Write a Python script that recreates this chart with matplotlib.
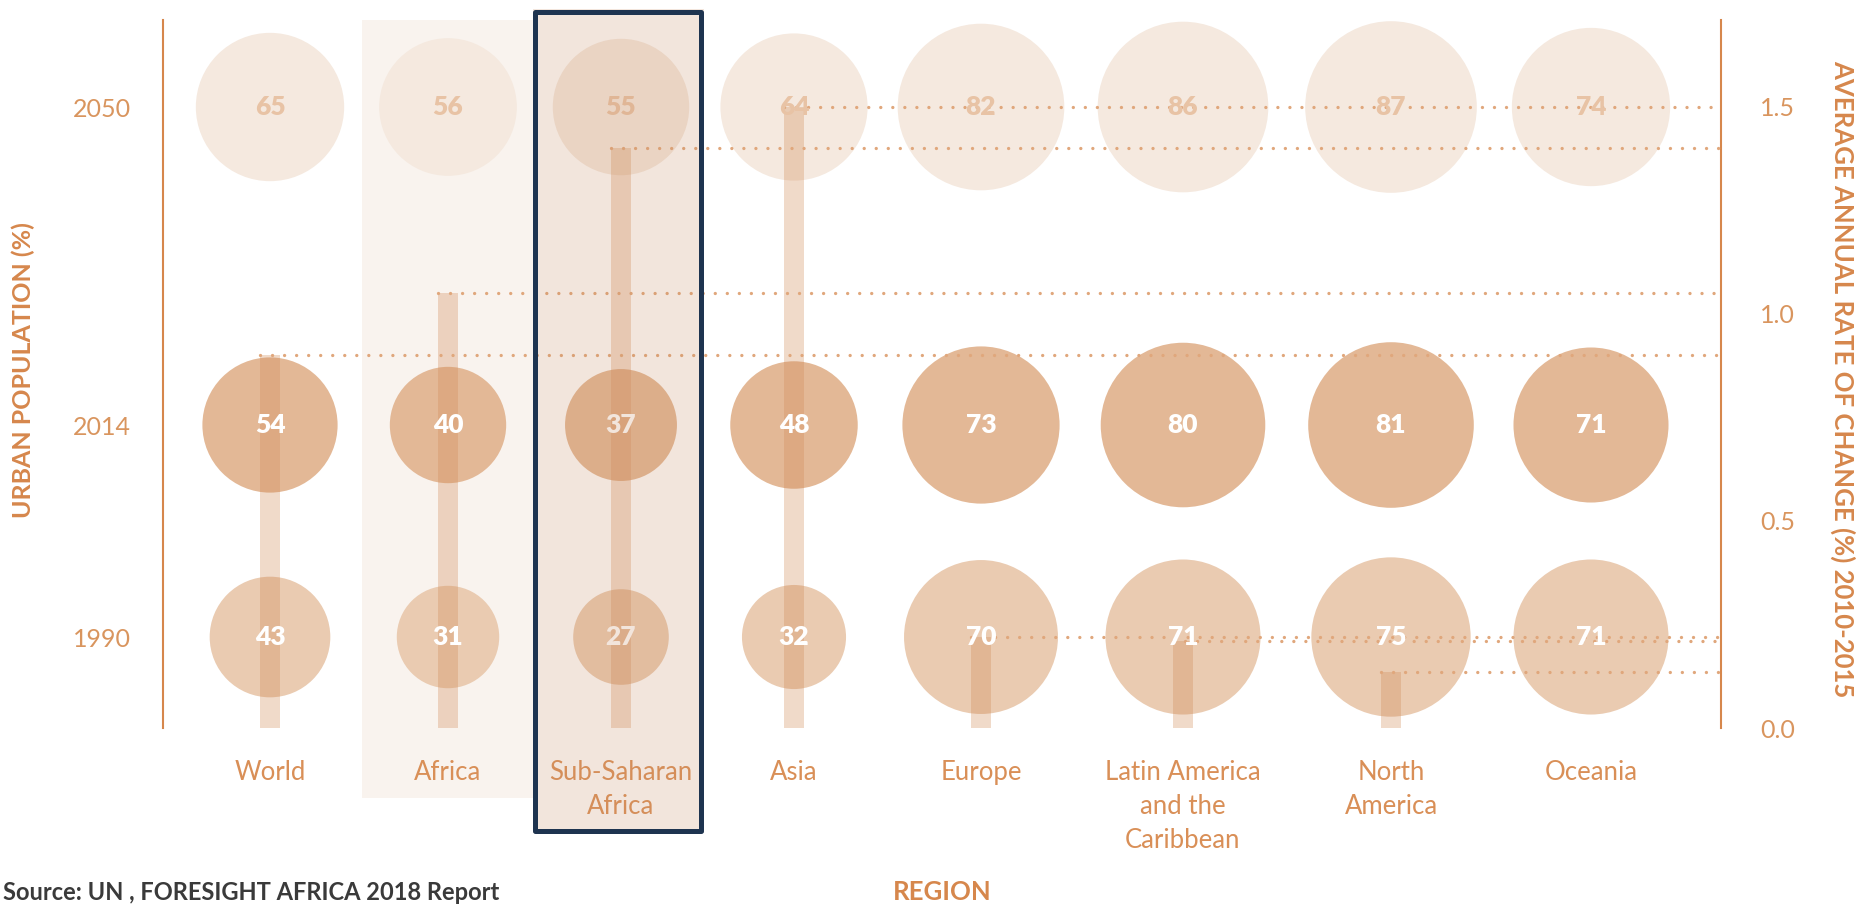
import numpy as np
import matplotlib.pyplot as plt
from matplotlib import patches, transforms

plt.rcParams['font.family'] = ['Lato', 'DejaVu Sans']

# data
regions = ['World', 'Africa', 'Sub-Saharan\nAfrica', 'Asia', 'Europe',
           'Latin America\nand the\nCaribbean', 'North\nAmerica', 'Oceania']
years = [1990, 2014, 2050]
urban_1990 = [43, 31, 27, 32, 70, 71, 75, 71]
urban_2014 = [54, 40, 37, 48, 73, 80, 81, 71]
urban_2050 = [65, 56, 55, 64, 82, 86, 87, 74]
rate_change = [0.90, 1.05, 1.40, 1.50, 0.22, 0.21, 0.135, np.nan]  # Oceania: no bar shown
rate_ticks = [0.0, 0.5, 1.0, 1.5]

# layout (figure pixels) - the columns in the original are not evenly spaced
W, H = 1860, 907
slot_x = [270, 448, 621, 794, 981, 1183, 1391, 1591]
ax_left, ax_right, ax_top, ax_bottom = 163, 1721, 20, 728

ORANGE = '#D6874C'
TICK_C = '#D9955E'
LABEL_C = '#D98F57'
row_style = {1990: ('#EACBB1', 'white'),
             2014: ('#E3B896', 'white'),
             2050: ('#F5E9DF', '#E8C3A5')}
SIZE = 175.5  # scatter area per % point (area proportional to value)

fig = plt.figure(figsize=(W / 100, H / 100), dpi=100)
ax = fig.add_axes([ax_left / W, 1 - ax_bottom / H,
                   (ax_right - ax_left) / W, (ax_bottom - ax_top) / H])
ax2 = ax.twinx()
ax.set_xlim(ax_left, ax_right)
ax.set_ylim(1979.7, 2059.85)
ax2.set_ylim(0, 1.71)

blend = transforms.blended_transform_factory(ax.transData, fig.transFigure)

# Africa highlight band (behind everything)
ax.add_patch(patches.Rectangle((362, 1 - 798 / H), 172, (798 - 20) / H,
                               transform=blend, facecolor='#F9F3EE',
                               edgecolor='none', zorder=0, clip_on=False))

# bubbles for each year
for yr, vals in zip(years, [urban_1990, urban_2014, urban_2050]):
    fill, txt = row_style[yr]
    ax.scatter(slot_x, [yr] * len(vals), s=np.array(vals) * SIZE, color=fill,
               edgecolors='none', zorder=2, clip_on=False)
    for x, v in zip(slot_x, vals):
        ax2.text(x, yr, str(v), transform=ax.transData, ha='center',
                 va='center', color=txt, fontsize=19, fontweight='heavy',
                 zorder=6)

# rate of change bars and dotted guide lines to the right axis
for x, r in zip(slot_x, rate_change):
    if np.isnan(r):
        continue
    ax2.bar(x, r, width=20, color=(0.82, 0.55, 0.35), alpha=0.32,
            edgecolor='none', zorder=3)
    ax2.plot([x - 10, ax_right], [r, r], color='#E0A77C', lw=2.4,
             linestyle=(0, (0.01, 3.6)), dash_capstyle='round',
             zorder=4, clip_on=False)

# Sub-Saharan Africa highlight box
ax2.add_patch(patches.Rectangle((533, 1 - 833 / H), 171, (833 - 9) / H,
                                transform=blend,
                                facecolor=(0.78, 0.55, 0.39, 0.22),
                                edgecolor='none', zorder=8, clip_on=False))
ax2.add_patch(patches.Rectangle((535.5, 1 - 830.5 / H), 166, (830.5 - 11.5) / H,
                                transform=blend, facecolor='none',
                                edgecolor='#1E3450', lw=3.6,
                                joinstyle='round', zorder=9, clip_on=False))

# axes styling
for s in ['top', 'bottom', 'right']:
    ax.spines[s].set_visible(False)
for s in ['top', 'bottom', 'left']:
    ax2.spines[s].set_visible(False)
ax.spines['left'].set_color(ORANGE)
ax.spines['left'].set_linewidth(1.5)
ax2.spines['right'].set_color(ORANGE)
ax2.spines['right'].set_linewidth(1.5)

ax.set_yticks(years, [str(y) for y in years])
ax.tick_params(axis='y', length=0, pad=23, labelsize=18, labelcolor=TICK_C)
ax2.set_yticks(rate_ticks, [f'{v:.1f}' for v in rate_ticks])
ax2.tick_params(axis='y', length=0, pad=28, labelsize=18, labelcolor=TICK_C)

ax.set_xticks(slot_x, regions)
ax.tick_params(axis='x', length=0, pad=23, labelsize=18.5, labelcolor=LABEL_C)
for t in ax.get_xticklabels():
    t.set_linespacing(1.45)

ax.set_ylabel('URBAN POPULATION (%)', fontsize=18, fontweight='bold',
              color=ORANGE, va='center', ha='center')
ax.yaxis.set_label_coords(-0.0899, 0.5056)
ax2.set_ylabel('AVERAGE ANNUAL RATE OF CHANGE (%) 2010-2015', fontsize=18.5,
               fontweight='bold', color=ORANGE, rotation=-90,
               va='center', ha='center')
ax2.yaxis.set_label_coords(1.078, 0.493)
ax.set_xlabel('REGION', fontsize=18.5, fontweight='bold', color=ORANGE)
ax.xaxis.set_label_coords(0.5, -0.215)

fig.text(3 / W, 1 - 892 / H, 'Source: UN , FORESIGHT AFRICA 2018 Report',
         fontsize=17, fontweight='bold', color='#3A3A3A', va='center')

fig.savefig('out.png', dpi=100)
